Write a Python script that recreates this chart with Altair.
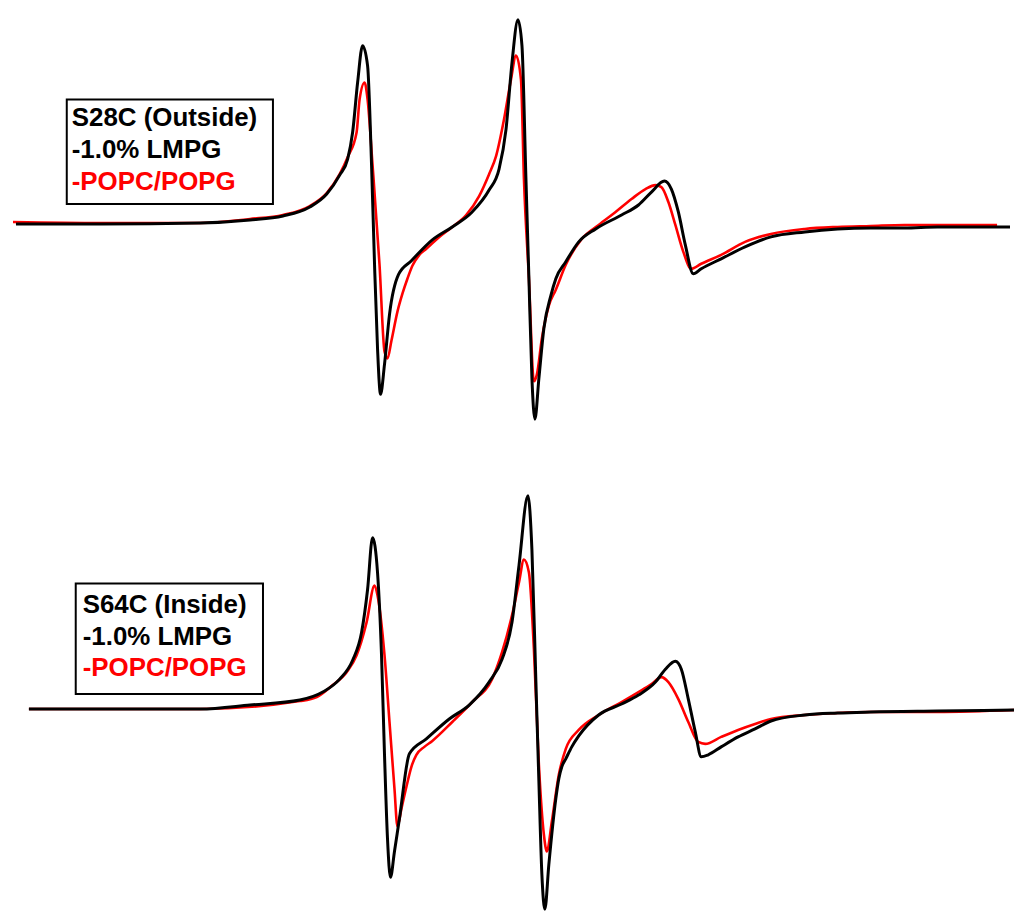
import altair as alt
import pandas as pd

# ---------------- data (field in a.u., signal in a.u.) ----------------
# Top panel: S28C (Outside)
top_lmpg_field = [15, 100, 200, 250, 283, 310, 327, 340, 348, 353, 358, 363, 368, 372, 375, 378, 381,
                  385, 390, 399, 412, 433, 453, 473, 490, 500, 507, 513, 519, 523, 527, 530, 533, 536,
                  540, 545, 552, 557, 567, 580, 597, 623, 640, 653, 666, 673, 680, 687, 695, 703, 723,
                  747, 773, 807, 840, 873, 907, 940, 1013]
top_lmpg_signal = [0, 0, 1, 4, 8, 17, 30, 49, 65, 92, 142, 179, 159, 59, -41, -125, -171,
                   -141, -91, -51, -37, -16, -3, 12, 34, 55, 95, 162, 205, 179, 45, -55, -155, -196,
                   -155, -105, -72, -55, -38, -18, -5, 9, 19, 32, 43, 35, 12, -21, -50, -45, -35,
                   -23, -13, -8, -5, -4, -4, -3, -3]

top_popc_field = [12, 100, 200, 250, 283, 310, 327, 340, 348, 357, 360, 365, 368, 373, 380, 385, 388,
                  392, 398, 403, 408, 413, 420, 427, 440, 453, 467, 480, 490, 497, 505, 512, 517, 522,
                  525, 530, 535, 538, 543, 550, 557, 567, 583, 600, 617, 633, 647, 657, 663, 670, 677,
                  685, 693, 703, 723, 747, 773, 807, 840, 873, 907, 940, 1000]
top_popc_signal = [2, 1, 1, 5, 9, 18, 31, 50, 67, 92, 125, 142, 125, 59, -41, -128, -135,
                   -117, -88, -70, -55, -42, -31, -25, -13, -3, 9, 28, 50, 68, 105, 145, 169, 145,
                   45, -55, -158, -151, -115, -82, -66, -41, -15, -1, 12, 25, 35, 39, 37, 22, -1,
                   -28, -45, -40, -31, -18, -10, -5, -3, -2, -1, -1, -1]

# Bottom panel: S64C (Inside)
bot_lmpg_field = [28, 100, 200, 250, 300, 323, 340, 353, 362, 368, 373, 378, 382, 385, 388, 391, 395,
                  400, 410, 427, 450, 470, 490, 503, 513, 520, 529, 533, 537, 540, 543, 546, 550, 557,
                  560, 563, 567, 573, 580, 600, 623, 640, 657, 667, 677, 683, 690, 697, 703, 710, 723,
                  740, 757, 773, 807, 840, 873, 940, 1017]
bot_lmpg_signal = [0, 0, 0, 4, 9, 17, 30, 49, 77, 120, 172, 137, 54, -46, -130, -169, -143,
                   -110, -45, -30, -10, 4, 27, 50, 87, 144, 214, 160, 27, -73, -166, -201, -156, -90,
                   -70, -58, -50, -38, -27, -6, 5, 14, 27, 40, 48, 40, 10, -23, -48, -46, -38,
                   -28, -20, -12, -6, -4, -3, -2, -1]

bot_popc_field = [28, 200, 300, 317, 333, 347, 357, 367, 375, 378, 385, 390, 395, 398, 402, 407, 412,
                  417, 425, 433, 453, 473, 493, 503, 513, 520, 525, 530, 535, 540, 545, 548, 553, 560,
                  567, 580, 600, 623, 640, 653, 663, 670, 680, 690, 700, 707, 723, 740, 757, 773, 807,
                  840, 873, 940, 1017]
bot_popc_signal = [0, 0, 8, 12, 24, 37, 54, 87, 124, 114, 54, -13, -80, -118, -100, -78, -58,
                   -46, -38, -32, -13, 7, 30, 57, 94, 127, 150, 137, 60, -56, -126, -143, -113, -66,
                   -40, -21, -6, 7, 17, 25, 32, 27, 10, -13, -33, -35, -28, -21, -15, -10, -6,
                   -4, -3, -3, -1]

top_labels = ["S28C (Outside)", "-1.0% LMPG", "-POPC/POPG"]
bot_labels = ["S64C (Inside)", "-1.0% LMPG", "-POPC/POPG"]
label_colors = ["#000000", "#000000", "#ff0000"]

FIELD_DOMAIN = [8, 1016]
W = 1008


def panel(lm_f, lm_s, pc_f, pc_s, ydom, h, labels, box, text_x, text_y):
    xs = alt.Scale(domain=FIELD_DOMAIN, nice=False, zero=False)
    ys = alt.Scale(domain=ydom, nice=False, zero=False)
    x = alt.X("field:Q", scale=xs, axis=None)
    y = alt.Y("signal:Q", scale=ys, axis=None)
    red = alt.Chart(pd.DataFrame({"field": pc_f, "signal": pc_s})).mark_line(
        color="#ff0000", strokeWidth=2.6, strokeJoin="round", interpolate="monotone").encode(x=x, y=y)
    black = alt.Chart(pd.DataFrame({"field": lm_f, "signal": lm_s})).mark_line(
        color="#000000", strokeWidth=3, strokeJoin="round", interpolate="monotone").encode(x=x, y=y)
    bx = alt.Chart(pd.DataFrame({"field": [box[0]], "f2": [box[1]], "signal": [box[2]], "s2": [box[3]]})).mark_rect(
        fill="white", stroke="#000000", strokeWidth=2).encode(
        x=alt.X("field:Q", scale=xs, axis=None), x2="f2:Q",
        y=alt.Y("signal:Q", scale=ys, axis=None), y2="s2:Q")
    tdf = pd.DataFrame({"field": [text_x] * 3, "signal": text_y, "t": labels, "c": label_colors})
    txt = alt.Chart(tdf).mark_text(align="left", baseline="alphabetic", fontSize=26,
                                   fontWeight="bold", font="Liberation Sans").encode(
        x=alt.X("field:Q", scale=xs, axis=None), y=alt.Y("signal:Q", scale=ys, axis=None),
        text="t:N", color=alt.Color("c:N", scale=None))
    return alt.layer(red, black, bx, txt).properties(width=W, height=h)


top = panel(top_lmpg_field, top_lmpg_signal, top_popc_field, top_popc_signal,
            [-234, 214], 448, top_labels, (66, 273, 125, 20), 71, [98, 66, 34])
bottom = panel(bot_lmpg_field, bot_lmpg_signal, bot_popc_field, bot_popc_signal,
               [-197, 251], 448, bot_labels, (75, 263, 126, 15), 82, [96, 64, 33])

chart = alt.vconcat(top, bottom, spacing=0).properties(padding=0).configure_view(stroke="transparent")
chart.save("out.html", embed_options={"renderer": "svg", "actions": False})
